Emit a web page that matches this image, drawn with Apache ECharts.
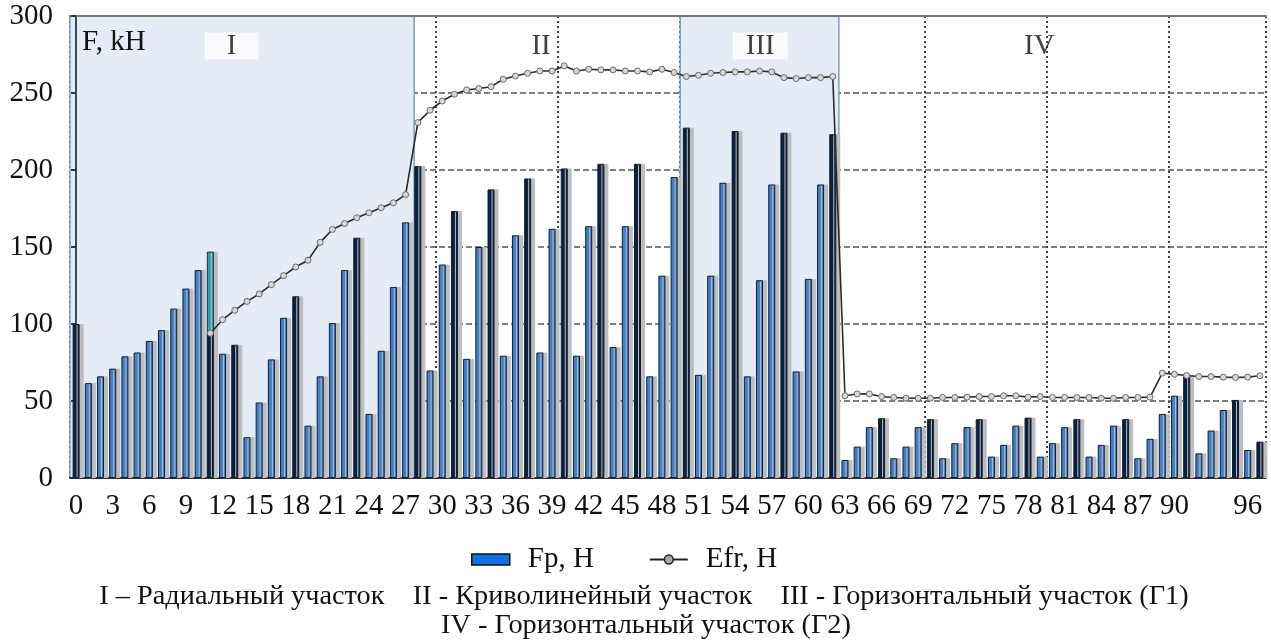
<!DOCTYPE html>
<html><head><meta charset="utf-8">
<script src="https://cdn.jsdelivr.net/npm/echarts@6/dist/echarts.min.js"></script>
<style>html,body{margin:0;padding:0;background:#fff}#c{width:1271px;height:642px}</style>
</head><body><div id="c"></div>
<script>
// ---- data ----
const categories = ['0','1','2','3','4','5','6','7','8','9','10','11','12','13','14','15','16','17','18','19',
 '20','21','22','23','24','25','26','27','28','29','30','31','32','33','34','35','36','37','38','39',
 '40','41','42','43','44','45','46','47','48','49','50','51','52','53','54','55','56','57','58','59',
 '60','61','62','63','64','65','66','67','68','69','70','71','72','73','74','75','76','77','78','79',
 '80','81','82','83','84','85','86','87','88','89','90','91','92','93','94','95','96','97'];

const fpValues = [100, 61.6, 66, 71, 79, 81.5, 89, 96, 110, 123, 135, 95,
 80.7, 86.5, 26.5, 49, 77, 104, 118, 34, 66, 100.6, 135, 156, 41.6, 82.6, 124, 166, 202.5,
 69.8, 138.6, 173.3, 77.4, 150, 187.4, 79.4, 157.6, 194.5, 81.5, 161.8, 201, 79.4, 163.5, 204,
 85, 163.5, 204, 66, 131.4, 195.4, 227.5, 67, 131.4, 191.7, 225.3, 66, 128.4, 190.6, 224.2,
 69.2, 129.3, 190.6, 223.2,
 11.7, 20.4, 33, 38.8, 12.8, 20.4, 33, 38.2, 12.8, 22.6, 33, 38.2, 13.9, 21.5, 34, 39.2,
 13.9, 22.6, 33, 38.2, 13.9, 21.5, 34, 38.2, 12.8, 25.4, 41.6, 53.4, 66, 16, 30.8, 44.2, 50.7, 18.2, 23.6];

// bars drawn in the dark (peak) shade
const peakBars = [0, 11, 13, 18, 23, 28, 31, 34, 37, 40, 43, 46, 50, 54, 58, 62, 66, 70, 74, 78, 82, 86, 91, 95, 97];

// highlighted (teal) bar behind bar 11
const highlightIndex = 11;
const highlightValue = 147;

const efrValues = [null, null, null, null, null, null, null, null, null, null, null,
 94, 102.8, 108.9, 114.7, 119.5, 125.6, 131.4, 137, 141.4, 153, 161.4, 165.3, 169, 172.2, 175.5, 178.7, 184,
 230.8, 238.8, 244.8, 249.2, 252, 252.9, 254.1, 258.9, 261, 262.8, 264.3, 264.3, 267.6, 264.3, 265.4, 265,
 265, 264.3, 264.3, 263.7, 265.4, 263.3, 260.7, 261.5, 262.8, 263.3, 263.7, 263.7, 264.3, 263.7, 260,
 259.4, 260, 260, 260.7,
 53.4, 54.6, 54.6, 52.9, 52.3, 51.8, 51.8, 51.8, 52.3, 52.3, 52.5, 52.9, 52.9, 53.4, 53.4, 52.5,
 52.9, 52.3, 52.3, 52.3, 52.3, 51.8, 51.8, 52.3, 52.3, 52.5, 68.1, 67.4, 66.6, 65.9, 65.9, 65.5, 65.3, 65.5, 66.4];

// shaded sections (category-coordinate bounds) and section names
const shadedSections = [[-0.5, 27.7], [49.5, 62.5]];
const sectionNames = ['I', 'II', 'III', 'IV'];
const sectionLabelX = [12.74, 38.1, 56.06, 78.93];
const sectionLabelY = 280.5;

const seriesNames = ['Fp, H', 'Efr, H'];
const yAxisName = 'F, kH';
const captionLines = [
  'I – Радиальный участок    II - Криволинейный участок    III - Горизонтальный участок (Г1)',
  'IV - Горизонтальный участок (Г2)'
];

// ---- chart ----
const FONT = "'Liberation Serif', 'Times New Roman', serif";
const chart = echarts.init(document.getElementById('c'));
const BLUE = '#3f7fcc', DARK = '#0c1f3c', TEAL = '#2ea3b4';

const option = {
  animation: false,
  grid: { left: 70, right: 5, top: 16, bottom: 164 },
  legend: {
    top: 540, left: 466, itemWidth: 38, itemHeight: 11, itemGap: 55,
    textStyle: { fontFamily: FONT, fontSize: 29, color: '#111', padding: [0, 0, 0, 13] },
    data: [
      { name: seriesNames[0], icon: 'rect', itemStyle: { color: '#1170e0', borderColor: '#111', borderWidth: 1.5, shadowBlur: 0, shadowOffsetX: 0, shadowColor: 'transparent' } },
      { name: seriesNames[1], itemStyle: { color: '#a8a8a8', borderColor: '#222', borderWidth: 1.5 }, lineStyle: { color: '#222', width: 2 } }
    ]
  },
  xAxis: [
    {
      type: 'category', data: categories, boundaryGap: true, z: 1,
      axisLine: { lineStyle: { color: '#333', width: 2 } },
      axisTick: { interval: 9, length: 5, lineStyle: { color: '#333', width: 2 } },
      splitLine: { show: true, interval: 9, lineStyle: { color: '#444', type: [2, 3], width: 2 } },
      axisLabel: {
        interval: (i) => i % 3 === 0 && i !== 93,
        fontFamily: FONT, fontSize: 29, color: '#111', margin: 14
      }
    },
    {
      type: 'value', min: -0.5, max: 97.5, position: 'top', z: 1,
      axisLine: { show: true, onZero: false, lineStyle: { color: '#777', width: 2 } },
      axisTick: { show: false }, axisLabel: { show: false }, splitLine: { show: false }
    }
  ],
  yAxis: {
    type: 'value', min: 0, max: 300, interval: 50, z: 1,
    axisLine: { show: true, lineStyle: { color: '#3a4a60', width: 2 } },
    axisTick: { show: true, length: 5, lineStyle: { color: '#333', width: 2 } },
    splitLine: { show: true, lineStyle: { color: '#555', type: [6, 3], width: 1.6 } },
    axisLabel: { fontFamily: FONT, fontSize: 29, color: '#111', margin: 17 }
  },
  series: [
    {
      type: 'scatter', xAxisIndex: 1, z: 0, silent: true, symbolSize: 0,
      data: [[0, 0]],
      markArea: {
        silent: true,
        itemStyle: { color: '#e5ecf6', borderColor: '#7f9dc4', borderWidth: 1.5 },
        data: shadedSections.map(s => [{ xAxis: s[0] }, { xAxis: s[1] }])
      }
    },
    {
      type: 'scatter', xAxisIndex: 1, z: 6, silent: true, symbolSize: 0,
      data: sectionNames.map((n, i) => ({
        name: n, value: [sectionLabelX[i], sectionLabelY],
        label: (n === 'I' || n === 'III') ? { backgroundColor: '#fff', padding: [0, n === 'I' ? 22 : 13] } : {}
      })),
      label: { show: true, position: 'inside', formatter: '{b}', fontFamily: FONT, fontSize: 29, color: '#111', lineHeight: 27 }
    },
    {
      type: 'bar', name: 'highlight', barWidth: 7, barGap: '-100%', z: 2,
      data: categories.map((c, i) => i === highlightIndex ? highlightValue : null),
      itemStyle: { color: TEAL, borderColor: '#12324a', borderWidth: 1, shadowColor: '#bdbdbd', shadowOffsetX: 4, shadowBlur: 0 }
    },
    {
      type: 'bar', name: seriesNames[0], barWidth: 7, barGap: '-100%', z: 3,
      data: fpValues.map((v, i) => ({
        value: v,
        itemStyle: { color: peakBars.includes(i) ? DARK : BLUE }
      })),
      itemStyle: { color: BLUE, borderColor: '#0d1f33', borderWidth: 1, shadowColor: '#bdbdbd', shadowOffsetX: 4, shadowBlur: 0 }
    },
    {
      type: 'line', name: seriesNames[1], data: efrValues, z: 4,
      symbol: 'circle', symbolSize: 6, showAllSymbol: true,
      lineStyle: { color: '#2b2b2b', width: 1.6 },
      itemStyle: { color: '#d8d8d8', borderColor: '#6a6a6a', borderWidth: 1 }
    }
  ],
  graphic: [
    { type: 'text', z: 20, left: 82, top: 28, style: { text: yAxisName, font: '29px ' + FONT, fill: '#111' } },
    { type: 'text', z: 20, x: 644, y: 597, style: { text: captionLines[0], font: '28.3px ' + FONT, fill: '#111', textAlign: 'center', textVerticalAlign: 'middle' } },
    { type: 'text', z: 20, x: 646, y: 626, style: { text: captionLines[1], font: '28.3px ' + FONT, fill: '#111', textAlign: 'center', textVerticalAlign: 'middle' } }
  ]
};
chart.setOption(option);
</script>
</body></html>
